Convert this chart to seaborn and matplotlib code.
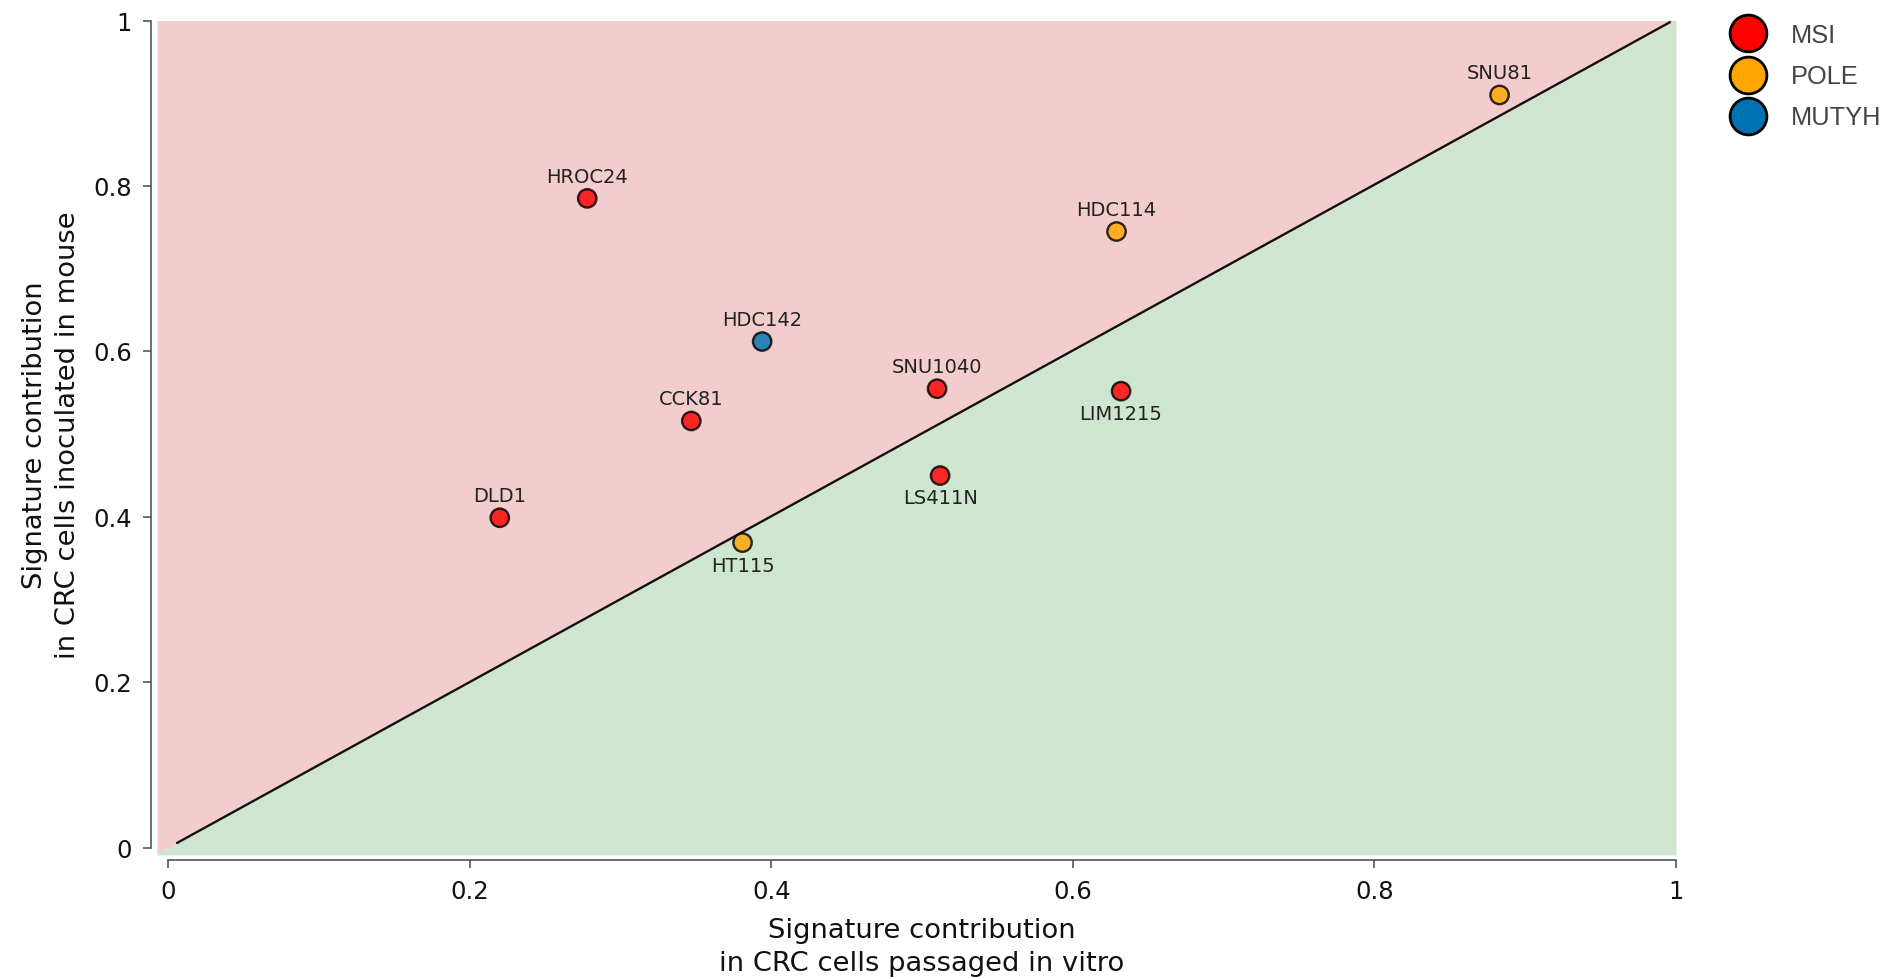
import matplotlib
matplotlib.use("Agg")
import matplotlib.pyplot as plt
from matplotlib.lines import Line2D
from matplotlib.ticker import FuncFormatter
import seaborn as sns
import pandas as pd

# ---- data ----
cell_lines = ["HROC24", "HDC142", "SNU81", "HDC114", "SNU1040", "CCK81",
              "DLD1", "HT115", "LS411N", "LIM1215"]
in_vitro = [0.278, 0.394, 0.883, 0.629, 0.510, 0.347, 0.220, 0.381, 0.512, 0.632]
in_mouse = [0.785, 0.612, 0.910, 0.745, 0.555, 0.516, 0.399, 0.369, 0.450, 0.552]
group = ["MSI", "MUTYH", "POLE", "POLE", "MSI", "MSI", "MSI", "POLE", "MSI", "MSI"]
label_below = ["HT115", "LS411N", "LIM1215"]
groups_order = ["MSI", "POLE", "MUTYH"]
ticks = [0, 0.2, 0.4, 0.6, 0.8, 1]

palette = {"MSI": "#ff0000", "POLE": "#ffa500", "MUTYH": "#0072b2"}

df = pd.DataFrame({"name": cell_lines, "x": in_vitro, "y": in_mouse, "group": group})

sns.set_style("ticks")
plt.rcParams["font.family"] = ["DejaVu Sans"]

fig = plt.figure(figsize=(18.85, 9.795), dpi=100)
ax = fig.add_axes([157 / 1885, 1 - 855 / 979, (1676 - 157) / 1885, (855 - 21) / 979])

xmin, xmax = -0.0073, 1.0
ymin, ymax = -0.0085, 1.0
xs = [xmin, xmax]
ax.fill_between(xs, xs, ymax, color="#f3cdcd", lw=0, zorder=0)
ax.fill_between(xs, ymin, xs, color="#cee5cf", lw=0, zorder=0)
ax.plot([0.006, 0.996], [0.006, 0.998], color="#111111", lw=1.7, zorder=1)

sns.scatterplot(data=df, x="x", y="y", hue="group", palette=palette,
                hue_order=groups_order, s=175, alpha=0.82, edgecolor="black",
                linewidth=1.7, legend=False, ax=ax, zorder=3)

for name, xv, yv in zip(cell_lines, in_vitro, in_mouse):
    off = -16.5 if name in label_below else 15.5
    ax.annotate(name, (xv, yv), xytext=(0, off), textcoords="offset points",
                ha="center", va="center", fontsize=14, color="#222222", zorder=4)

ax.set_xlim(xmin, xmax)
ax.set_ylim(ymin, ymax)
ax.set_xticks(ticks)
ax.set_yticks(ticks)
fmt = FuncFormatter(lambda v, p: "%g" % v)
ax.xaxis.set_major_formatter(fmt)
ax.yaxis.set_major_formatter(fmt)
ax.tick_params(labelsize=17.5, length=6, width=1.2, color="#555555", labelcolor="#111111", pad=8)

xc = (0.5 - xmin) / (xmax - xmin)
yc = (0.5 - ymin) / (ymax - ymin)
ax.set_xlabel("Signature contribution\nin CRC cells passaged in vitro", fontsize=19.7,
              labelpad=9.5, color="#111111", linespacing=1.35, x=xc)
ax.set_ylabel("Signature contribution\nin CRC cells inoculated in mouse", fontsize=19.7,
              labelpad=9, color="#111111", linespacing=1.35, y=yc)

sns.despine(ax=ax, offset=4, trim=True)
for sp in ["left", "bottom"]:
    ax.spines[sp].set_color("#555555")
    ax.spines[sp].set_linewidth(1.2)

handles = [Line2D([], [], marker="o", linestyle="", markersize=26.5,
                  markerfacecolor=palette[g], markeredgecolor="black",
                  markeredgewidth=2, label=g) for g in groups_order]
leg = fig.legend(handles=handles, loc="upper left", bbox_to_anchor=(1716 / 1885, 1 - 11 / 979),
                 frameon=False, prop={"family": "Liberation Sans", "size": 18.3},
                 labelcolor="#444444", handletextpad=0.95, labelspacing=0.68,
                 borderpad=0, handlelength=1.5)

fig.savefig("out.png", dpi=100)
